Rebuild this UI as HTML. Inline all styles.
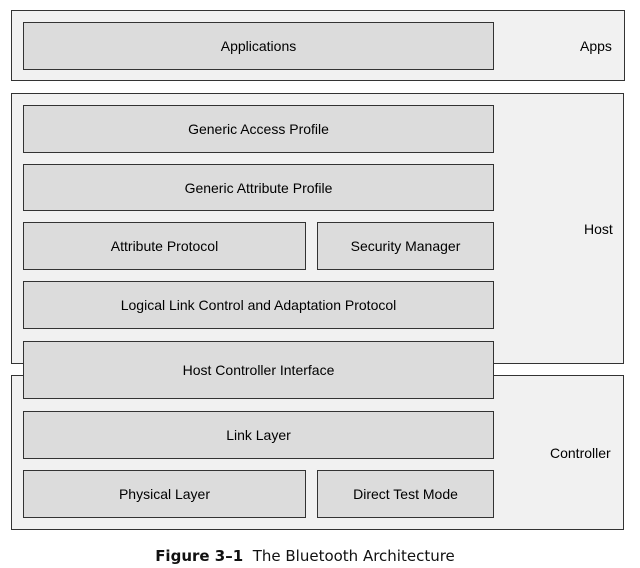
<!DOCTYPE html>
<html><head><style>
body{margin:0;width:640px;height:568px;background:#fff;position:relative;font-family:"Liberation Sans",sans-serif;overflow:hidden}
.o{position:absolute;background:#f1f1f1;border:1.5px solid #333;box-sizing:border-box}
.b{position:absolute;background:#dcdcdc;border:1.5px solid #333;box-sizing:border-box;display:flex;align-items:center;justify-content:center;font-size:14px;color:#000}
.l{position:absolute;font-size:14px;color:#000}
.cap{position:absolute;top:547px;left:150px;width:310px;text-align:center;font-size:15px;color:#111;font-family:"DejaVu Sans",sans-serif;white-space:nowrap}
</style></head><body>
<div class="o" style="left:11px;top:10px;width:614px;height:71px"></div>
<div class="b" style="left:23px;top:22px;width:471px;height:48px">Applications</div>
<div class="l" style="left:580px;top:38px">Apps</div>

<div class="o" style="left:11px;top:93px;width:613px;height:271px"></div>
<div class="b" style="left:23px;top:105px;width:471px;height:48px">Generic Access Profile</div>
<div class="b" style="left:23px;top:164px;width:471px;height:47px">Generic Attribute Profile</div>
<div class="b" style="left:23px;top:222px;width:283px;height:48px">Attribute Protocol</div>
<div class="b" style="left:317px;top:222px;width:177px;height:48px">Security Manager</div>
<div class="b" style="left:23px;top:281px;width:471px;height:48px">Logical Link Control and Adaptation Protocol</div>
<div class="l" style="left:584px;top:221px">Host</div>

<div class="o" style="left:11px;top:375px;width:613px;height:155px"></div>
<div class="b" style="left:23px;top:341px;width:471px;height:58px">Host Controller Interface</div>
<div class="b" style="left:23px;top:411px;width:471px;height:48px">Link Layer</div>
<div class="b" style="left:23px;top:470px;width:283px;height:48px">Physical Layer</div>
<div class="b" style="left:317px;top:470px;width:177px;height:48px">Direct Test Mode</div>
<div class="l" style="left:550px;top:445px">Controller</div>

<div class="cap"><b>Figure 3–1</b>&nbsp; The Bluetooth Architecture</div>
</body></html>
